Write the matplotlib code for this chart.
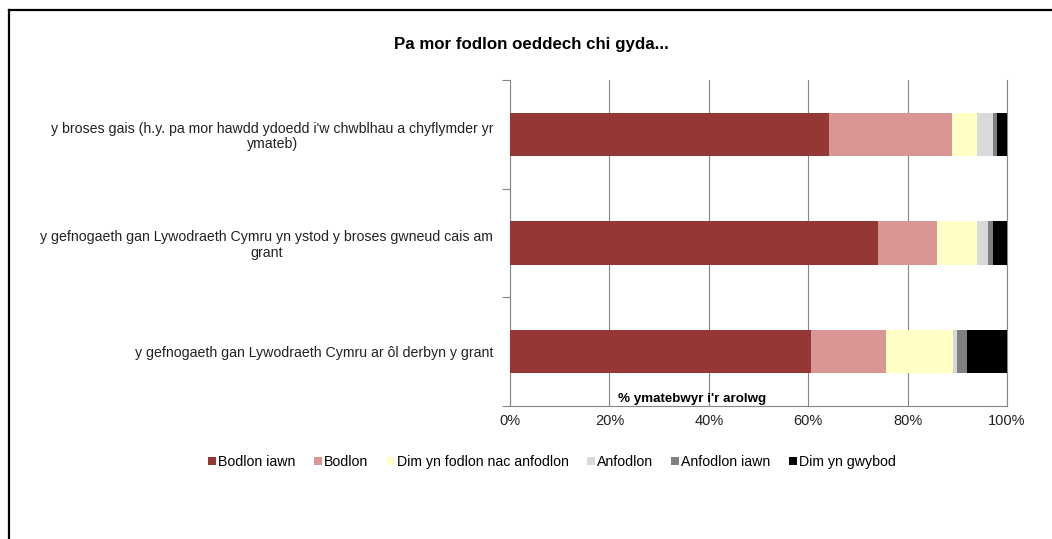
import matplotlib
matplotlib.use("Agg")
import matplotlib.pyplot as plt
from matplotlib.patches import Rectangle
from matplotlib.lines import Line2D
import numpy as np

plt.rcParams['font.family'] = ['Liberation Sans', 'DejaVu Sans']

categories = [
    "y broses gais (h.y. pa mor hawdd ydoedd i'w chwblhau a chyflymder yr\nymateb)",
    "y gefnogaeth gan Lywodraeth Cymru yn ystod y broses gwneud cais am\ngrant",
    "y gefnogaeth gan Lywodraeth Cymru ar ôl derbyn y grant",
]
series_names = ["Bodlon iawn", "Bodlon", "Dim yn fodlon nac anfodlon",
                "Anfodlon", "Anfodlon iawn", "Dim yn gwybod"]
bodlon_iawn = [64.1, 74.0, 60.6]
bodlon = [24.9, 11.9, 15.1]
dim_fodlon = [5.0, 8.1, 13.4]
anfodlon = [3.2, 2.1, 0.8]
anfodlon_iawn = [0.8, 1.0, 2.0]
dim_gwybod = [2.0, 2.9, 8.1]
colors = ["#953735", "#D99694", "#FFFFC6", "#D9D9D9", "#808080", "#000000"]
x_ticks = [0, 20, 40, 60, 80, 100]
x_ticklabels = ["0%", "20%", "40%", "60%", "80%", "100%"]
title = "Pa mor fodlon oeddech chi gyda..."
xlabel = "% ymatebwyr i'r arolwg"

W, H = 1052, 539
fig = plt.figure(figsize=(W / 100, H / 100), dpi=100)

# outer frame (partly cut off by the image edge)
fig.add_artist(Line2D([9 / W, 9 / W], [0, 1 - 10 / H], transform=fig.transFigure,
                      color="black", lw=1.6))
fig.add_artist(Line2D([9 / W, 1.0], [1 - 10 / H, 1 - 10 / H], transform=fig.transFigure,
                      color="black", lw=1.6))

ax = fig.add_axes([510 / W, 1 - 406 / H, 497 / W, 326 / H])

all_series = [bodlon_iawn, bodlon, dim_fodlon, anfodlon, anfodlon_iawn, dim_gwybod]
ypos = np.arange(len(categories))[::-1]
left = np.zeros(len(categories))
for name, vals, c in zip(series_names, all_series, colors):
    vals = np.array(vals)
    ax.barh(ypos, vals, left=left, height=0.4, color=c, label=name, zorder=3)
    left += vals

ax.set_xlim(0, 100)
ax.set_ylim(-0.5, 2.5)
ax.set_xticks(x_ticks)
ax.set_xticklabels(x_ticklabels, fontsize=10.5, color="#222222")
ax.tick_params(axis='x', length=0, pad=6)
ax.set_yticks(ypos)
ax.set_yticklabels(categories, fontsize=10.2, ha='right', multialignment='center',
                   color="#222222", linespacing=1.15)
ax.tick_params(axis='y', which='major', length=0, pad=12)
ax.set_yticks([-0.5, 0.5, 1.5, 2.5], minor=True)
ax.tick_params(axis='y', which='minor', length=6, color="#868686", width=0.8)

ax.grid(axis='x', color="#868686", lw=0.8, zorder=0)
ax.axvline(100, color="#868686", lw=0.8, zorder=0, clip_on=False)
for s in ['top', 'right']:
    ax.spines[s].set_visible(False)
for s in ['left', 'bottom']:
    ax.spines[s].set_color("#868686")
    ax.spines[s].set_linewidth(0.8)

fig.text(692 / W, 1 - 399 / H, xlabel, fontsize=9.6, fontweight='bold',
         ha='center', va='center', zorder=5)

fig.text(531 / W, 1 - 45 / H, title, fontsize=12.2, fontweight='bold',
         ha='center', va='center')

handles = [Rectangle((0, 0), 1, 1, facecolor=c, edgecolor='none') for c in colors]
fig.legend(handles, series_names, loc='center', bbox_to_anchor=(552 / W, 1 - 462 / H),
           ncol=6, frameon=False, fontsize=10.2, handlelength=0.55, handleheight=0.55,
           handletextpad=0.15, columnspacing=1.3, borderaxespad=0)

fig.savefig("out.png", dpi=100, facecolor="white")
